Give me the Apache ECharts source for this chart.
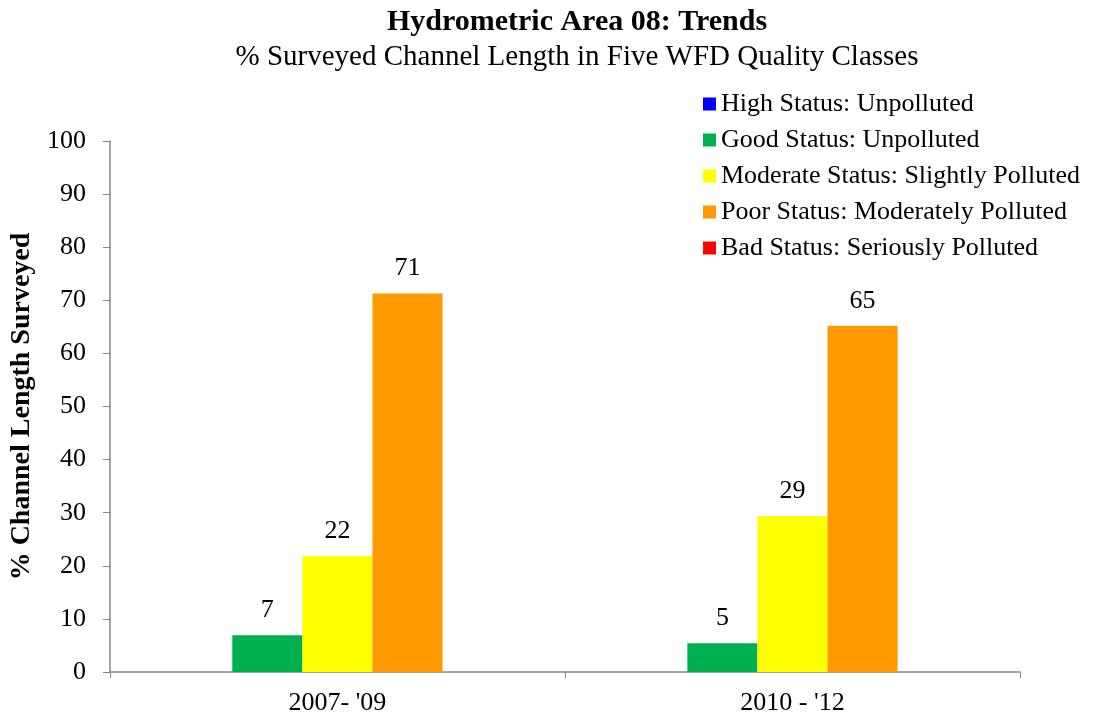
<!DOCTYPE html>
<html>
<head>
<meta charset="utf-8">
<script src="https://cdn.jsdelivr.net/npm/echarts@6/dist/echarts.min.js"></script>
<style>
  html, body { margin: 0; padding: 0; background: #fff; }
  #main { width: 1096px; height: 717px; }
</style>
</head>
<body>
<div id="main"></div>
<script>
var categories = ["2007- '09", "2010 - '12"];
var seriesNames = [
  'High Status: Unpolluted',
  'Good Status: Unpolluted',
  'Moderate Status: Slightly Polluted',
  'Poor Status: Moderately Polluted',
  'Bad Status: Seriously Polluted'
];
var highData = [0, 0];
var goodData = [6.9, 5.4];
var moderateData = [21.8, 29.4];
var poorData = [71.3, 65.2];
var badData = [0, 0];
var colors = ['#0000ff', '#00b050', '#ffff00', '#ff9900', '#ff0000'];

var font = 'Liberation Serif, Times New Roman, serif';
var chart = echarts.init(document.getElementById('main'));

function makeSeries(name, data, color) {
  return {
    name: name,
    type: 'bar',
    data: data,
    barGap: '0%',
    barCategoryGap: '23%',
    itemStyle: { color: color },
    label: {
      show: true,
      position: 'top',
      distance: 12,
      color: '#000',
      fontFamily: font,
      fontSize: 26,
      formatter: function (p) {
        return p.value > 0 ? Math.round(p.value) : '';
      }
    }
  };
}

var option = {
  animation: false,
  backgroundColor: '#fff',
  title: [{
    text: 'Hydrometric Area 08: Trends',
    left: 572,
    top: 2,
    textAlign: 'center',
    textStyle: { fontFamily: font, fontSize: 30, fontWeight: 'bold', color: '#000' }
  }, {
    text: '% Surveyed Channel Length in Five WFD Quality Classes',
    left: 572,
    top: 38,
    textAlign: 'center',
    textStyle: { fontFamily: font, fontSize: 29, fontWeight: 'normal', color: '#000' }
  }],
  legend: {
    orient: 'vertical',
    left: 698,
    top: 86,
    icon: 'rect',
    itemWidth: 13,
    itemHeight: 13,
    itemGap: 10,
    data: seriesNames,
    textStyle: { fontFamily: font, fontSize: 26, color: '#000' }
  },
  grid: { left: 107, right: 76, top: 141, bottom: 45 },
  xAxis: {
    type: 'category',
    data: categories,
    axisLine: { lineStyle: { color: '#868686', width: 1.5 } },
    axisTick: { show: true, length: 6, lineStyle: { color: '#868686' } },
    axisLabel: { fontFamily: font, fontSize: 26, color: '#000', margin: 18 }
  },
  yAxis: {
    type: 'value',
    min: 0,
    max: 100,
    interval: 10,
    name: '% Channel Length Surveyed',
    nameLocation: 'middle',
    nameGap: 72,
    nameTextStyle: { fontFamily: font, fontSize: 28, fontWeight: 'bold', color: '#000' },
    axisLine: { show: true, lineStyle: { color: '#868686', width: 1.5 } },
    axisTick: { show: true, length: 7, lineStyle: { color: '#868686' } },
    splitLine: { show: false },
    axisLabel: { fontFamily: font, fontSize: 26, color: '#000', margin: 24 }
  },
  series: [
    makeSeries(seriesNames[0], highData, colors[0]),
    makeSeries(seriesNames[1], goodData, colors[1]),
    makeSeries(seriesNames[2], moderateData, colors[2]),
    makeSeries(seriesNames[3], poorData, colors[3]),
    makeSeries(seriesNames[4], badData, colors[4])
  ]
};

chart.setOption(option);
</script>
</body>
</html>
